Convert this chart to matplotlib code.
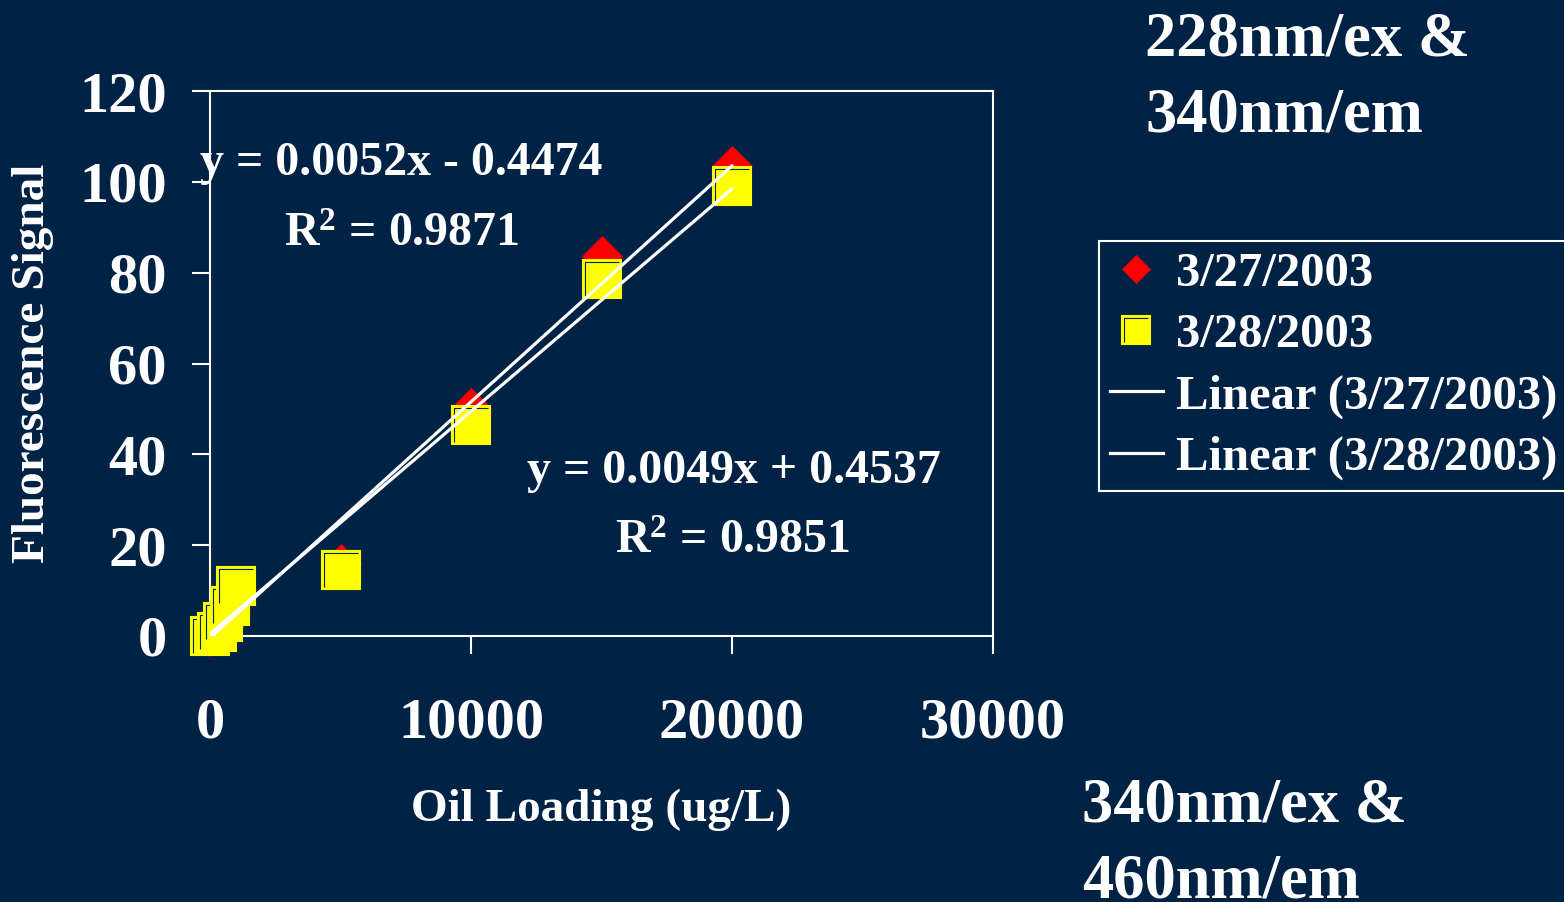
import numpy as np
import matplotlib
matplotlib.use('Agg')
import matplotlib.pyplot as plt
from matplotlib.path import Path
from matplotlib.lines import Line2D
from matplotlib.legend_handler import HandlerTuple

# ---------------- data ----------------
oil_loading = [0, 250, 500, 750, 1000, 5000, 10000, 15000, 20000]
signal_0327 = [0.0, 0.8, 2.0, 5.7, 10.4, 15.9, 50.2, 83.7, 103.5]
signal_0328 = [0.0, 0.9, 3.1, 6.6, 11.0, 14.5, 46.4, 78.6, 99.1]
fit_0327 = [0.0052, -0.4474]   # slope, intercept
fit_0328 = [0.0049, 0.4537]
r2_0327 = 0.9871
r2_0328 = 0.9851
series_labels = ['3/27/2003', '3/28/2003', 'Linear (3/27/2003)', 'Linear (3/28/2003)']
x_ticks = [0, 10000, 20000, 30000]
y_ticks = [0, 20, 40, 60, 80, 100, 120]

# ---------------- style ----------------
BG = '#002244'
W, H = 1564, 902
plt.rcParams['font.family'] = ['Liberation Serif', 'DejaVu Serif']
plt.rcParams['font.weight'] = 'bold'
plt.rcParams['axes.labelweight'] = 'bold'
plt.rcParams['mathtext.fontset'] = 'custom'
plt.rcParams['mathtext.rm'] = 'Liberation Serif:bold'
plt.rcParams['mathtext.it'] = 'Liberation Serif:bold'
plt.rcParams['mathtext.bf'] = 'Liberation Serif:bold'

fig = plt.figure(figsize=(W / 100, H / 100), dpi=100, facecolor=BG)
ax = fig.add_axes([210 / W, 1 - 636 / H, 783 / W, 545 / H])
ax.set_facecolor(BG)
ax.set_xlim(0, 30000)
ax.set_ylim(0, 120)
for s in ax.spines.values():
    s.set_color('white')
    s.set_linewidth(1.5)
ax.set_xticks(x_ticks)
ax.set_yticks(y_ticks)
ax.set_xticklabels([str(v) for v in x_ticks])
ax.set_yticklabels([str(v) for v in y_ticks])
ax.tick_params(axis='both', colors='white', direction='out', length=13,
               width=1.5, labelsize=42)
ax.tick_params(axis='x', pad=31)
ax.tick_params(axis='y', pad=18)

# inner "bevel" marker for yellow squares
L_path = Path([(-1, -1), (-1, 1), (1, 1)], [Path.MOVETO, Path.LINETO, Path.LINETO])

# red diamonds
ax.plot(oil_loading, signal_0327, linestyle='none', marker='D', ms=20.4,
        mfc='#ff0000', mec='#ff0000', mew=0.5, clip_on=False, zorder=3)

# yellow squares, drawn one after another so later ones overlap earlier
z = 4
for xi, yi in zip(oil_loading, signal_0328):
    ax.plot([xi], [yi], linestyle='none', marker='s', ms=27.5, mfc='#ffff00',
            mec='#ffff00', mew=1.5, clip_on=False, zorder=z)
    ax.plot([xi], [yi], linestyle='none', marker=L_path, ms=24.5, mfc='none',
            mec=BG, mew=0.8, clip_on=False, zorder=z + 0.5)
    z += 1

# trend lines
xr = np.array([min(oil_loading), max(oil_loading)], dtype=float)
ax.plot(xr, fit_0327[0] * xr + fit_0327[1], color='white', lw=2.3,
        solid_capstyle='round', zorder=50)
ax.plot(xr, fit_0328[0] * xr + fit_0328[1], color='white', lw=2.3,
        solid_capstyle='round', zorder=50)

# equations
def eq_text(fit):
    sign = '-' if fit[1] < 0 else '+'
    return 'y = %.4fx %s %.4f' % (fit[0], sign, abs(fit[1]))

fig.text(401 / W, 1 - 175 / H, eq_text(fit_0327), ha='center', va='baseline',
         fontsize=34.5, color='white')
fig.text(402 / W, 1 - 246 / H, 'R$^2$ = %.4f' % r2_0327, ha='center', va='baseline',
         fontsize=34.5, color='white')
fig.text(734 / W, 1 - 483 / H, eq_text(fit_0328), ha='center', va='baseline',
         fontsize=34.5, color='white')
fig.text(733 / W, 1 - 553 / H, 'R$^2$ = %.4f' % r2_0328, ha='center', va='baseline',
         fontsize=34.5, color='white')

# axis labels
ax.set_xlabel('Oil Loading (ug/L)', fontsize=34, color='white', va='center',
              fontweight='bold')
ax.xaxis.set_label_coords(0.5, (636 - 810) / 545)
ax.set_ylabel('Fluorescence Signal', fontsize=34, color='white', va='center',
              fontweight='bold')
ax.yaxis.set_label_coords((33 - 210) / 783, 0.5)

# legend
h1 = Line2D([], [], linestyle='none', marker='D', ms=20.4, mfc='#ff0000',
            mec='#ff0000', mew=0.5)
h2a = Line2D([], [], linestyle='none', marker='s', ms=27.5, mfc='#ffff00',
             mec='#ffff00', mew=1.5)
h2b = Line2D([], [], linestyle='none', marker=L_path, ms=24.5, mfc='none',
             mec=BG, mew=0.8)
h3 = Line2D([], [], color='white', lw=2.3)
h4 = Line2D([], [], color='white', lw=2.3)
leg = fig.legend([h1, (h2a, h2b), h3, h4], series_labels,
                 handler_map={tuple: HandlerTuple(ndivide=1)},
                 loc='upper left', bbox_to_anchor=(1099 / W, 1 - 241 / H),
                 bbox_transform=fig.transFigure, frameon=True, fontsize=35,
                 facecolor=BG, edgecolor='white', framealpha=1, fancybox=False,
                 borderpad=0.22, labelspacing=0.355, handlelength=1.1,
                 handletextpad=0.27, borderaxespad=0, markerscale=0.72,
                 labelcolor='white')
leg.get_frame().set_linewidth(1.5)

# side captions
fig.text(1145 / W, 1 - 55 / H, '228nm/ex &', fontsize=45, color='white',
         ha='left', va='baseline')
fig.text(1145 / W, 1 - 131 / H, '340nm/em', fontsize=45, color='white',
         ha='left', va='baseline')
fig.text(1082 / W, 1 - 822 / H, '340nm/ex &', fontsize=45, color='white',
         ha='left', va='baseline')
fig.text(1082 / W, 1 - 897 / H, '460nm/em', fontsize=45, color='white',
         ha='left', va='baseline')

fig.savefig('out.png', dpi=100, facecolor=BG)
